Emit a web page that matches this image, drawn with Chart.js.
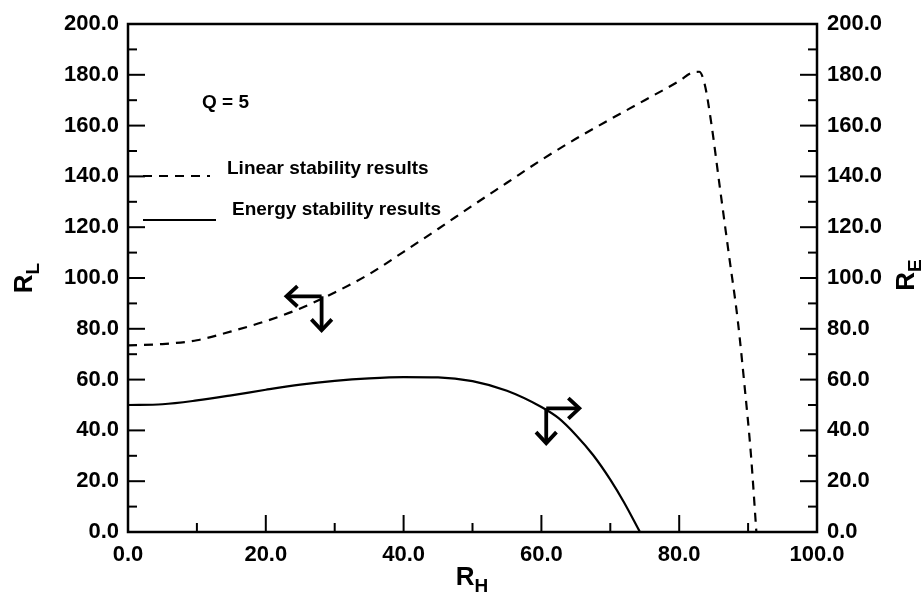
<!DOCTYPE html>
<html>
<head>
<meta charset="utf-8">
<script src="https://cdn.jsdelivr.net/npm/chart.js@4.4.1/dist/chart.umd.min.js"></script>
<style>
html, body { margin: 0; padding: 0; background: #fff; }
#wrap { width: 921px; height: 598px; }
</style>
</head>
<body>
<div id="wrap"><canvas id="graph" width="921" height="598"></canvas></div>
<script>
// values
const rhLinear = [0, 5, 10, 15, 20, 25, 30, 35, 40, 45, 50, 55, 60, 65, 70, 75, 80, 81.8, 82.9, 83.7, 84.6, 85.9, 87.2, 88.5, 89.5, 90.4, 91.2];
const rlLinear = [73.5, 74, 75.5, 79, 83, 88, 94.3, 101.5, 110.3, 119.3, 128.5, 137.5, 146.5, 154.8, 162.5, 170, 177.6, 180.8, 181.2, 176.3, 162, 135.7, 109.5, 83.3, 57.1, 30.9, 0];
const rhEnergy = [0, 5, 10, 15, 20, 25, 30, 35, 40, 45, 50, 55, 60, 62.5, 65, 67.5, 70, 72, 74.3];
const reEnergy = [50, 50.3, 51.8, 53.8, 56, 58, 59.5, 60.5, 61, 60.9, 59.4, 55.6, 49.2, 44.8, 38.2, 30.3, 20.6, 11.6, 0];
const xTicks = [0, 20, 40, 60, 80, 100];
const yTicks = [0, 20, 40, 60, 80, 100, 120, 140, 160, 180, 200];
const seriesNames = ['Linear stability results', 'Energy stability results'];
// arrow annotations: corner point and tips, in data units
const arrowMarks = [
  { x: 28.1, y: 92.8, xTip: 23.0, yTip: 79.4 },
  { x: 60.7, y: 48.7, xTip: 65.5, yTip: 35.0 }
];

const FONT = '"Liberation Sans", Arial, Helvetica, sans-serif';

function pts(xs, ys) {
  return xs.map((v, i) => ({ x: v, y: ys[i] }));
}

function line(ctx, x0, y0, x1, y1) {
  ctx.beginPath();
  ctx.moveTo(x0, y0);
  ctx.lineTo(x1, y1);
  ctx.stroke();
}

function arrow(ctx, x0, y0, x1, y1) {
  line(ctx, x0, y0, x1, y1);
  const ang = Math.atan2(y1 - y0, x1 - x0);
  const hl = 15, sp = 0.75;
  ctx.beginPath();
  ctx.moveTo(x1 - hl * Math.cos(ang - sp), y1 - hl * Math.sin(ang - sp));
  ctx.lineTo(x1, y1);
  ctx.lineTo(x1 - hl * Math.cos(ang + sp), y1 - hl * Math.sin(ang + sp));
  ctx.stroke();
}

// "R" with subscript, centred on (cx, cy), optionally rotated
function subTitle(ctx, main, sub, cx, cy, rot) {
  ctx.save();
  ctx.translate(cx, cy);
  ctx.rotate(rot);
  ctx.fillStyle = '#000';
  ctx.textBaseline = 'alphabetic';
  ctx.textAlign = 'left';
  ctx.font = 'bold 26px ' + FONT;
  const w1 = ctx.measureText(main).width;
  ctx.font = 'bold 19px ' + FONT;
  const w2 = ctx.measureText(sub).width;
  const x0 = -(w1 + w2) / 2;
  ctx.font = 'bold 26px ' + FONT;
  ctx.fillText(main, x0, 7);
  ctx.font = 'bold 19px ' + FONT;
  ctx.fillText(sub, x0 + w1, 14);
  ctx.restore();
}

const decor = {
  id: 'decor',
  afterDraw(chart) {
    const { ctx, chartArea: a, scales } = chart;
    const x = scales.x, y = scales.y, y2 = scales.y2;
    ctx.save();
    ctx.strokeStyle = '#000';
    ctx.lineCap = 'butt';

    // frame
    ctx.lineWidth = 2.5;
    ctx.strokeRect(a.left, a.top, a.right - a.left, a.bottom - a.top);

    // inward ticks, major every 20, minor every 10
    ctx.lineWidth = 2;
    for (let v = 10; v < 200; v += 10) {
      const len = v % 20 === 0 ? 17 : 9;
      const p1 = y.getPixelForValue(v);
      line(ctx, a.left, p1, a.left + len, p1);
      const p2 = y2.getPixelForValue(v);
      line(ctx, a.right, p2, a.right - len, p2);
    }
    for (let v = 10; v < 100; v += 10) {
      const len = v % 20 === 0 ? 17 : 9;
      const px = x.getPixelForValue(v);
      line(ctx, px, a.bottom, px, a.bottom - len);
    }

    // arrows
    ctx.lineWidth = 3.8;
    ctx.lineJoin = 'miter';
    arrowMarks.forEach(m => {
      const cx = x.getPixelForValue(m.x), cy = y.getPixelForValue(m.y);
      arrow(ctx, cx, cy, x.getPixelForValue(m.xTip), cy);
      arrow(ctx, cx, cy, cx, y.getPixelForValue(m.yTip));
    });

    // legend inside the plot
    const ds = chart.data.datasets;
    ctx.lineWidth = 2;
    ctx.setLineDash(ds[0].borderDash);
    line(ctx, 143, 176, 210, 176);
    ctx.setLineDash([]);
    line(ctx, 143, 220, 216, 220);
    ctx.fillStyle = '#000';
    ctx.textAlign = 'left';
    ctx.textBaseline = 'alphabetic';
    ctx.font = 'bold 19px ' + FONT;
    ctx.fillText(ds[0].label, 227, 174);
    ctx.fillText(ds[1].label, 232, 215);
    ctx.fillText('Q = 5', 202, 108);

    // axis titles
    subTitle(ctx, 'R', 'L', 25, 278, -Math.PI / 2);
    subTitle(ctx, 'R', 'E', 907, 275, -Math.PI / 2);
    subTitle(ctx, 'R', 'H', 472, 578, 0);
    ctx.restore();
  }
};

const tickFont = { family: FONT, size: 22, weight: 'bold' };
const fmt = v => Number(v).toFixed(1);

new Chart(document.getElementById('graph'), {
  type: 'line',
  data: {
    datasets: [
      {
        label: seriesNames[0],
        data: pts(rhLinear, rlLinear),
        yAxisID: 'y',
        borderColor: '#000',
        borderWidth: 2.2,
        borderDash: [9, 7],
        pointRadius: 0,
        cubicInterpolationMode: 'monotone',
        fill: false
      },
      {
        label: seriesNames[1],
        data: pts(rhEnergy, reEnergy),
        yAxisID: 'y2',
        borderColor: '#000',
        borderWidth: 2.2,
        pointRadius: 0,
        cubicInterpolationMode: 'monotone',
        fill: false
      }
    ]
  },
  options: {
    responsive: false,
    animation: false,
    devicePixelRatio: 1,
    layout: { padding: { top: 24, left: 0, right: 0, bottom: 0 } },
    plugins: { legend: { display: false }, tooltip: { enabled: false } },
    scales: {
      x: {
        type: 'linear', min: 0, max: 100,
        afterBuildTicks: s => { s.ticks = xTicks.map(v => ({ value: v })); },
        grid: { display: false, drawTicks: false },
        border: { display: false },
        ticks: { font: tickFont, color: '#000', padding: 10, maxRotation: 0, callback: fmt },
        afterFit: s => { s.height = 66; s.paddingLeft = 0; s.paddingRight = 0; }
      },
      y: {
        position: 'left', min: 0, max: 200,
        afterBuildTicks: s => { s.ticks = yTicks.map(v => ({ value: v })); },
        grid: { display: false, drawTicks: false },
        border: { display: false },
        ticks: { font: tickFont, color: '#000', padding: 9, callback: fmt },
        afterFit: s => { s.width = 128; s.paddingTop = 0; s.paddingBottom = 0; }
      },
      y2: {
        position: 'right', min: 0, max: 200,
        afterBuildTicks: s => { s.ticks = yTicks.map(v => ({ value: v })); },
        grid: { display: false, drawTicks: false },
        border: { display: false },
        ticks: { font: tickFont, color: '#000', padding: 10, callback: fmt },
        afterFit: s => { s.width = 104; s.paddingTop = 0; s.paddingBottom = 0; }
      }
    }
  },
  plugins: [decor]
});
</script>
</body>
</html>
